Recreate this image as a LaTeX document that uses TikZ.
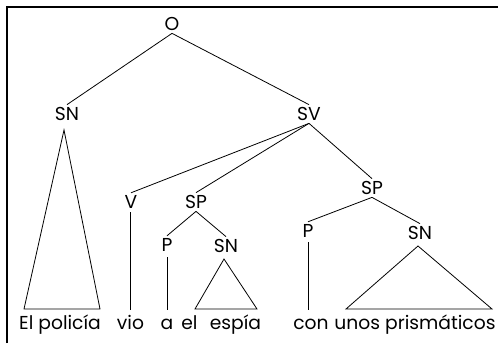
\documentclass[tikz,border=0pt]{standalone}
\usepackage{fontspec}
\setmainfont{Poppins}
\begin{document}
\begin{tikzpicture}[x=1pt,y=-1pt,
  lab/.style={font=\fontsize{18.7}{22}\selectfont, inner sep=2.5pt},
  word/.style={font=\fontsize{18.7}{22}\selectfont, inner sep=0pt, anchor=base},
  edge/.style={line width=0.8pt},
  frame/.style={line width=1.6pt}]
\useasboundingbox (0,0) rectangle (498,343);
% frame
\coordinate (fa) at (7,343);
\coordinate (fb) at (7,7);
\coordinate (fc) at (498,7);
\draw[frame] (fa) -- (fb) -- (fc);
% category labels
\node[lab] (O) at (172,24) {O};
\node[lab] (SNa) at (67,114) {SN};
\node[lab] (SV) at (309,114) {SV};
\node[lab] (V) at (131,202) {V};
\node[lab] (SPa) at (196,202) {SP};
\node[lab] (SPb) at (372,188) {SP};
\node[lab] (Pa) at (167,245) {P};
\node[lab] (SNb) at (226,246) {SN};
\node[lab] (Pb) at (308,231) {P};
\node[lab] (SNc) at (420,233) {SN};
% words
\node[word] (w1) at (60,329) {El policía};
\node[word] (w2) at (130.5,329) {vio};
\node[word] (w3) at (167,329) {a};
\node[word] (w4) at (189.5,329) {el};
\node[word] (w5) at (235.5,329) {espía};
\node[word] (w6) at (311,329) {con};
\node[word] (w7) at (415,329) {unos prismáticos};
% branches
\draw[edge] (O.south) -- (SNa.north);
\draw[edge] (O.south) -- (SV.north);
\draw[edge] (SV.south) -- (V.north);
\draw[edge] (SV.south) -- (SPa.north);
\draw[edge] (SV.south) -- (SPb.north);
\draw[edge] (SPa.south) -- (Pa.north);
\draw[edge] (SPa.south) -- (SNb.north);
\draw[edge] (SPb.south) -- (Pb.north);
\draw[edge] (SPb.south) -- (SNc.north);
% unary branches down to the words
\coordinate (v1) at (130,212);  \coordinate (v2) at (130,310);
\coordinate (p1) at (167,257);  \coordinate (p2) at (167,310);
\coordinate (q1) at (308,242);  \coordinate (q2) at (308,310);
\draw[edge] (v1) -- (v2);
\draw[edge] (p1) -- (p2);
\draw[edge] (q1) -- (q2);
% collapsed phrases
\coordinate (ta) at (64,130);  \coordinate (tal) at (24,309);  \coordinate (tar) at (100,309);
\coordinate (tb) at (224,259); \coordinate (tbl) at (195,309); \coordinate (tbr) at (257,309);
\coordinate (tc) at (418,246); \coordinate (tcl) at (346,309); \coordinate (tcr) at (492,309);
\draw[edge] (ta) -- (tal) -- (tar) -- cycle;
\draw[edge] (tb) -- (tbl) -- (tbr) -- cycle;
\draw[edge] (tc) -- (tcl) -- (tcr) -- cycle;
\end{tikzpicture}
\end{document}
